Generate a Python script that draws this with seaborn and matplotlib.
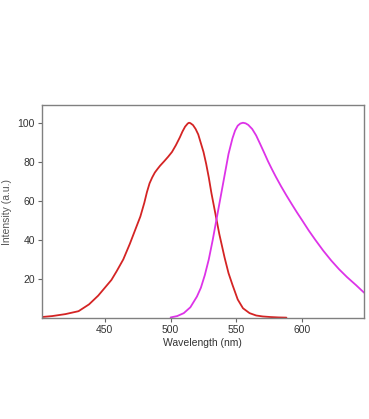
import numpy as np
import pandas as pd
import matplotlib
matplotlib.use("Agg")
import matplotlib.pyplot as plt
import seaborn as sns

# red curve (excitation)
red_wl = [402, 410, 420, 430, 438, 445, 450, 455, 459, 464, 469, 473, 477, 480,
          482, 484, 486, 488, 490, 492, 495, 498, 501, 504, 507, 509, 511, 513,
          514, 515, 517, 519, 521, 523, 525, 527, 529, 531, 533, 535, 537, 539,
          541, 544, 547, 551, 555, 560, 565, 570, 576, 582, 588]
red_int = [0.5, 1, 2, 3.5, 7, 11.5, 15.5, 19.5, 24, 30, 38, 45, 52, 59,
           64.5, 69, 72, 74.5, 76.3, 78, 80.2, 82.5, 85, 88.5, 92.5, 95.5, 98, 99.6,
           100, 99.8, 98.8, 96.8, 94, 89.5, 85, 79, 72, 64, 57, 50, 43, 37,
           31, 23, 17, 9.5, 5, 2.5, 1.3, 0.8, 0.5, 0.3, 0.2]

# magenta curve (emission)
mag_wl = [500, 505, 510, 515, 520, 523, 526, 529, 532, 535, 538, 541, 544, 547,
          549, 551, 553, 555, 557, 559, 562, 565, 568, 571, 574, 577, 580, 584,
          588, 592, 596, 600, 605, 610, 616, 622, 628, 634, 641, 647]
mag_int = [0.3, 1, 2.5, 5.5, 11, 15.5, 22, 30, 40, 51, 62, 73, 84, 92,
           96, 98.5, 99.6, 100, 99.7, 98.9, 96.8, 93.5, 89.2, 84.8, 80.3, 76.2, 72.3, 67.4,
           62.8, 58.4, 54.1, 50, 44.8, 40, 34.5, 29.5, 25, 21, 16.8, 13]

x_ticks = [450, 500, 550, 600]
y_ticks = [20, 40, 60, 80, 100]

sns.set_style("white")
plt.rcParams['font.family'] = ['Liberation Sans', 'DejaVu Sans']

fig = plt.figure(figsize=(3.69, 4.19), dpi=100)
ax = fig.add_axes([0.113, 0.241, 0.8735, 0.508])

df_red = pd.DataFrame({"wl": red_wl, "val": red_int})
df_mag = pd.DataFrame({"wl": mag_wl, "val": mag_int})
sns.lineplot(data=df_red, x="wl", y="val", ax=ax, color="#d42424", linewidth=1.3)
sns.lineplot(data=df_mag, x="wl", y="val", ax=ax, color="#dd33e8", linewidth=1.3)

ax.set_xlim(402, 647)
ax.set_ylim(0, 109)
ax.set_xticks(x_ticks)
ax.set_yticks(y_ticks)
ax.tick_params(axis='both', which='both', direction='out', length=3, width=0.8,
               color='#666666', labelsize=7.5, labelcolor='#333333', pad=2,
               bottom=True, left=True)
for s in ax.spines.values():
    s.set_color('#808080')
    s.set_linewidth(1.0)

ax.set_xlabel("Wavelength (nm)", fontsize=7.5, color='#333333', labelpad=2)
ax.set_ylabel("Intensity (a.u.)", fontsize=7.5, color='#555555', labelpad=4)

fig.savefig("out.png", dpi=100)
